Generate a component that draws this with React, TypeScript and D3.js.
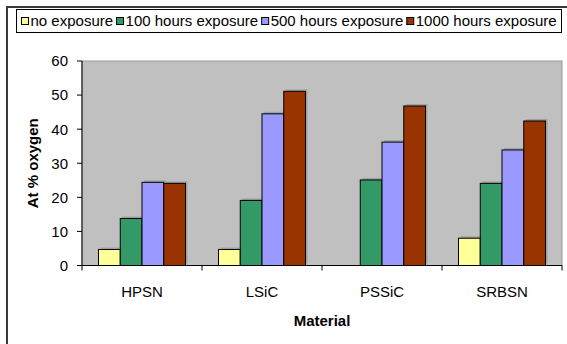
import React, { useEffect, useRef } from 'react'
import * as d3 from 'd3'

const materials = ['HPSN', 'LSiC', 'PSSiC', 'SRBSN']
const seriesNames = ['no exposure', '100 hours exposure', '500 hours exposure', '1000 hours exposure']
const noExposure = [4.7, 4.7, 0, 8.0]
const hours100 = [13.8, 19.1, 25.1, 24.1]
const hours500 = [24.4, 44.5, 36.2, 33.9]
const hours1000 = [24.1, 51.1, 46.8, 42.4]
const yTicks = [0, 10, 20, 30, 40, 50, 60]
const colors = ['#FFFF99', '#339966', '#9999FF', '#993300']

const W = 567
const H = 344
const FONT = 'Liberation Sans, Arial, sans-serif'

export default function App() {
  const ref = useRef<SVGSVGElement | null>(null)

  useEffect(() => {
    document.body.style.margin = '0'
    const svg = d3.select(ref.current)
    svg.selectAll('*').remove()

    const values = [noExposure, hours100, hours500, hours1000]
    const plot = { left: 82, right: 562, top: 61, bottom: 265.5 }

    // outer chart frame (runs off the right/bottom edge like the source)
    svg.append('rect')
      .attr('x', 7).attr('y', 7)
      .attr('width', 700).attr('height', 500)
      .attr('fill', 'white')
      .attr('stroke', '#3a3a3a').attr('stroke-width', 2)

    const x0 = d3.scaleBand<string>()
      .domain(materials)
      .range([plot.left, plot.right])
      .paddingInner(0.275)
      .paddingOuter(0.1375)
    const x1 = d3.scaleBand<string>()
      .domain(seriesNames)
      .range([0, x0.bandwidth()])
    const y = d3.scaleLinear().domain([0, 60]).range([plot.bottom, plot.top])

    // plot area
    svg.append('rect')
      .attr('x', plot.left).attr('y', plot.top)
      .attr('width', plot.right - plot.left).attr('height', plot.bottom - plot.top)
      .attr('fill', '#C0C0C0')
      .attr('stroke', '#9a9a9a').attr('stroke-width', 1)

    const groups = svg.append('g')
      .selectAll('g')
      .data(materials)
      .join('g')
      .attr('transform', d => `translate(${x0(d)},0)`)

    const barData = (m: string, i: number) => seriesNames.map((s, k) => ({ s, k, v: values[k][i] }))
      .filter(d => d.v > 0)

    // shadows
    groups.selectAll('rect.shadow')
      .data((m, i) => barData(m, i))
      .join('rect')
      .attr('class', 'shadow')
      .attr('x', d => (x1(d.s) as number) + 2)
      .attr('y', d => y(d.v) - 2)
      .attr('width', x1.bandwidth())
      .attr('height', d => plot.bottom - y(d.v))
      .attr('fill', '#a2a2a2')

    groups.selectAll('rect.bar')
      .data((m, i) => barData(m, i))
      .join('rect')
      .attr('class', 'bar')
      .attr('x', d => x1(d.s) as number)
      .attr('y', d => y(d.v))
      .attr('width', x1.bandwidth())
      .attr('height', d => plot.bottom - y(d.v))
      .attr('fill', d => colors[d.k])
      .attr('stroke', 'black')
      .attr('stroke-width', 1)

    // y axis
    svg.append('line')
      .attr('x1', plot.left).attr('x2', plot.left)
      .attr('y1', plot.top).attr('y2', plot.bottom)
      .attr('stroke', 'black')
    svg.append('g').selectAll('line')
      .data(yTicks)
      .join('line')
      .attr('x1', plot.left - 5).attr('x2', plot.left)
      .attr('y1', d => y(d)).attr('y2', d => y(d))
      .attr('stroke', 'black')
    svg.append('g')
      .attr('font-family', FONT).attr('font-size', 15)
      .attr('text-anchor', 'end')
      .selectAll('text')
      .data(yTicks)
      .join('text')
      .attr('x', plot.left - 14)
      .attr('y', d => y(d))
      .attr('dy', '0.36em')
      .text(d => d)

    // x axis
    svg.append('line')
      .attr('x1', plot.left).attr('x2', plot.right)
      .attr('y1', plot.bottom).attr('y2', plot.bottom)
      .attr('stroke', 'black')
    const step = x0.step()
    svg.append('g').selectAll('line')
      .data(d3.range(materials.length + 1))
      .join('line')
      .attr('x1', i => plot.left + i * step).attr('x2', i => plot.left + i * step)
      .attr('y1', plot.bottom).attr('y2', plot.bottom + 5)
      .attr('stroke', 'black')
    svg.append('g')
      .attr('font-family', FONT).attr('font-size', 15)
      .attr('text-anchor', 'middle')
      .selectAll('text')
      .data(materials)
      .join('text')
      .attr('x', d => (x0(d) as number) + x0.bandwidth() / 2)
      .attr('y', 297)
      .text(d => d)

    // axis titles
    svg.append('text')
      .attr('x', (plot.left + plot.right) / 2)
      .attr('y', 326)
      .attr('text-anchor', 'middle')
      .attr('font-family', FONT).attr('font-size', 15).attr('font-weight', 'bold')
      .text('Material')
    svg.append('text')
      .attr('transform', `translate(38,${(plot.top + plot.bottom) / 2}) rotate(-90)`)
      .attr('text-anchor', 'middle')
      .attr('font-family', FONT).attr('font-size', 15).attr('font-weight', 'bold')
      .text('At % oxygen')

    // legend
    const legend = svg.append('g')
    legend.append('rect')
      .attr('x', 16.5).attr('y', 9.5)
      .attr('width', 545).attr('height', 23)
      .attr('fill', 'white').attr('stroke', 'black').attr('stroke-width', 1)
    let lx = 21.5
    seriesNames.forEach((name, k) => {
      legend.append('rect')
        .attr('x', lx).attr('y', 17.5)
        .attr('width', 7).attr('height', 7)
        .attr('fill', colors[k]).attr('stroke', 'black')
      const t = legend.append('text')
        .attr('x', lx + 9).attr('y', 26)
        .attr('font-family', FONT).attr('font-size', 15)
        .text(name)
      const w = (t.node() as SVGTextElement).getComputedTextLength()
      lx += 9 + w + 3.5
    })
  }, [])

  return <svg ref={ref} width={W} height={H} style={{ display: 'block' }} />
}
